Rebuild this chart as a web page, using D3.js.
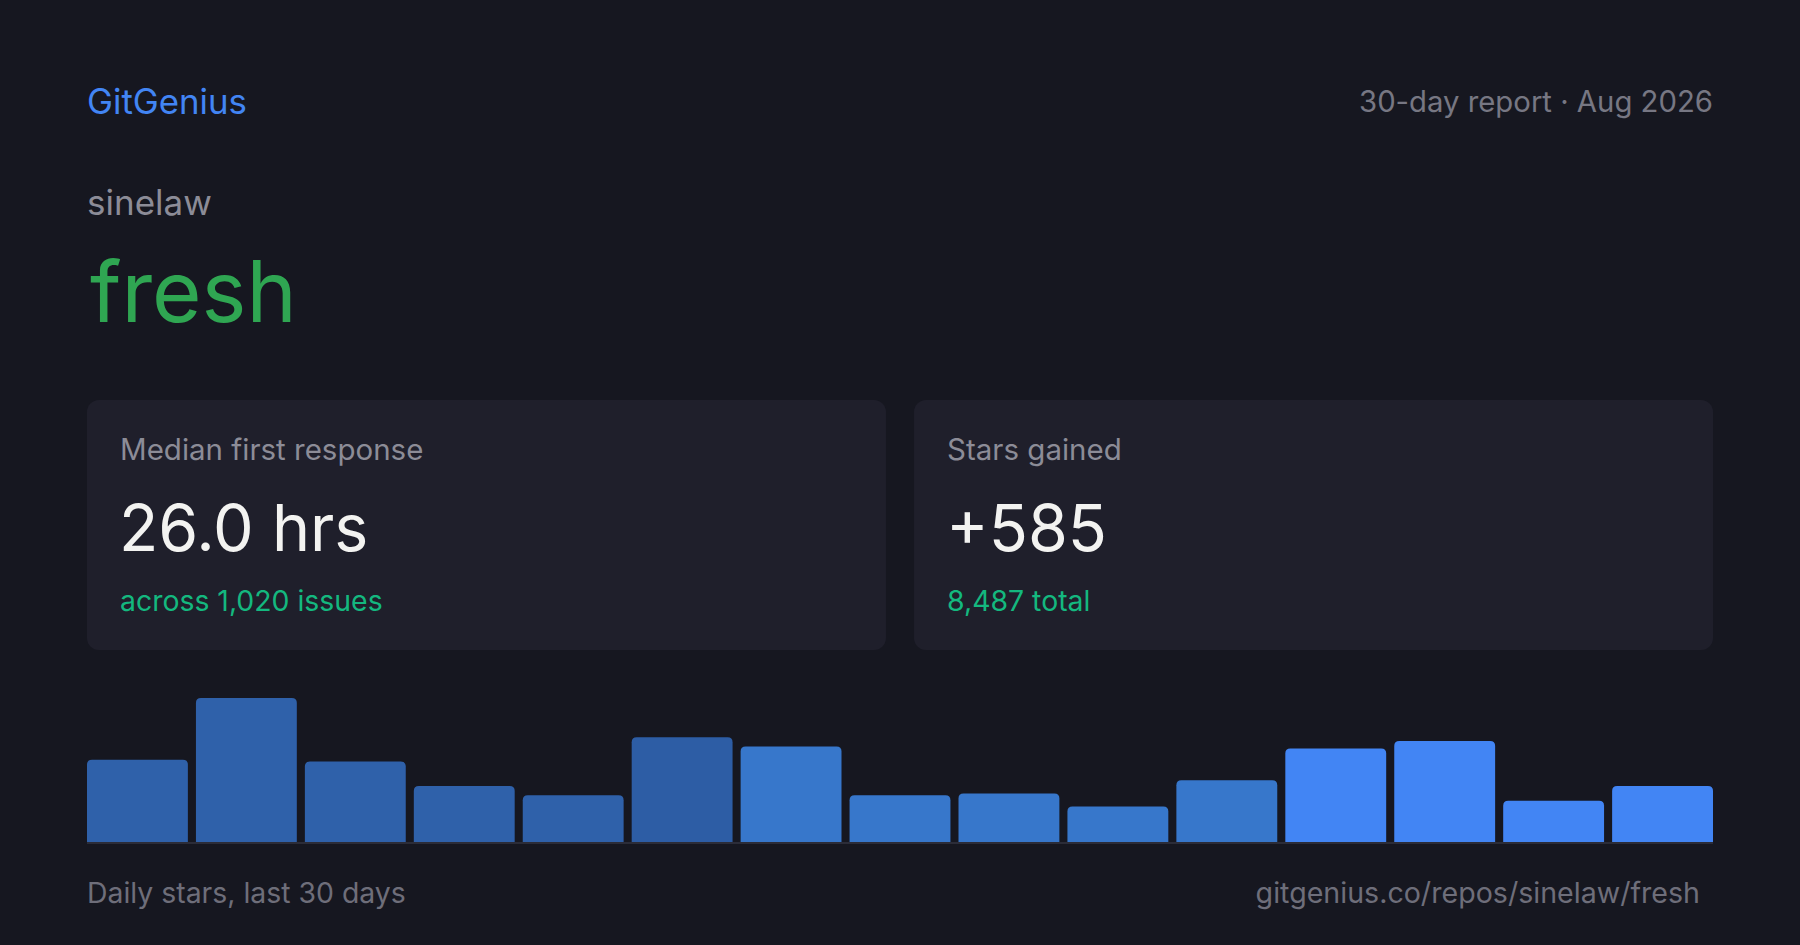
<!DOCTYPE html>
<html>
<head>
<meta charset="utf-8">
<script src="https://cdn.jsdelivr.net/npm/d3@7"></script>
<style>
  body { margin: 0; background: #161720; }
  text { font-family: Inter, "Noto Sans", sans-serif; }
</style>
</head>
<body>
<div id="card"></div>
<script>
// daily stars
let bins = d3.range(1, 16);
let stars = [44, 77, 43, 30, 25, 56, 51, 25, 26, 19, 33, 50, 54, 22, 30];
// shade group of each bar
let shade = [0, 0, 0, 0, 0, 1, 2, 2, 2, 2, 2, 3, 3, 3, 3];

let repoOwner = "sinelaw";
let repoName = "fresh";
let statLabels = ["Median first response", "Stars gained"];
let statValues = ["26.0 hrs", "+585"];
let statNotes = ["across 1,020 issues", "8,487 total"];

let width = 1800;
let height = 945;
let margin = { left: 87, right: 87 };

let svg = d3.select("#card")
            .append("svg")
            .attr("width", width)
            .attr("height", height);

svg.append("rect")
    .attr("width", width)
    .attr("height", height)
    .attr("fill", "#161720");

// header
svg.append("text")
    .attr("x", margin.left)
    .attr("y", 114)
    .attr("font-size", 34.8)
    .attr("fill", "#4285f4")
    .text("GitGenius");

svg.append("text")
    .attr("x", width - margin.right)
    .attr("y", 112)
    .attr("text-anchor", "end")
    .attr("font-size", 29.3)
    .attr("fill", "#777783")
    .text("30-day report · Aug 2026");

svg.append("text")
    .attr("x", margin.left)
    .attr("y", 215)
    .attr("font-size", 35)
    .attr("fill", "#8c8c97")
    .text(repoOwner);

svg.append("text")
    .attr("x", margin.left + 3)
    .attr("y", 322)
    .attr("font-size", 85)
    .attr("fill", "#2fa652")
    .text(repoName);

// stat cards
let cardX = d3.scaleBand()
              .domain(d3.range(statLabels.length))
              .range([margin.left, width - margin.right])
              .paddingInner(0.034);

let cards = svg.selectAll(".stat")
               .data(statLabels)
               .enter()
               .append("g")
               .attr("class", "stat")
               .attr("transform", (d, i) => `translate(${cardX(i)}, 400)`);

cards.append("rect")
    .attr("width", cardX.bandwidth())
    .attr("height", 250)
    .attr("rx", 12)
    .attr("fill", "#1f1f2b");

cards.append("text")
    .attr("x", 33)
    .attr("y", 60)
    .attr("font-size", 29.5)
    .attr("fill", "#8c8c97")
    .text(d => d);

cards.append("text")
    .attr("x", 32)
    .attr("y", 151)
    .attr("font-size", 64.5)
    .attr("fill", "#f3f3f1")
    .text((d, i) => statValues[i]);

cards.append("text")
    .attr("x", 33)
    .attr("y", 211)
    .attr("font-size", 28.4)
    .attr("fill", "#14b87f")
    .text((d, i) => statNotes[i]);

// daily stars bars
let baseY = 842;
let x = d3.scaleBand()
          .domain(bins)
          .range([margin.left, width - margin.right])
          .paddingInner(0.074);

let y = d3.scaleLinear()
          .domain([0, d3.max(stars)])
          .range([baseY, baseY - 144]);

let color = d3.scaleOrdinal()
              .domain([0, 1, 2, 3])
              .range(["#2f61aa", "#2d5da5", "#3777cb", "#4285f4"]);

let r = 5;
function topRounded(x0, y0, w, h) {
    let rr = Math.min(r, h);
    return `M${x0},${y0 + h}V${y0 + rr}Q${x0},${y0} ${x0 + rr},${y0}` +
           `H${x0 + w - rr}Q${x0 + w},${y0} ${x0 + w},${y0 + rr}V${y0 + h}Z`;
}

svg.append("g")
    .selectAll("path")
    .data(stars)
    .enter()
    .append("path")
    .attr("d", (d, i) => topRounded(x(bins[i]), y(d), x.bandwidth(), baseY - y(d)))
    .attr("fill", (d, i) => color(shade[i]));

svg.append("rect")
    .attr("x", margin.left)
    .attr("y", baseY)
    .attr("width", width - margin.left - margin.right)
    .attr("height", 2)
    .attr("fill", "#2b2c38");

// footer
svg.append("text")
    .attr("x", margin.left)
    .attr("y", 903)
    .attr("font-size", 28.4)
    .attr("fill", "#6e6e7a")
    .text("Daily stars, last 30 days");

svg.append("text")
    .attr("x", 1700)
    .attr("y", 903)
    .attr("text-anchor", "end")
    .attr("font-size", 28.6)
    .attr("fill", "#6e6e7a")
    .text(`gitgenius.co/repos/${repoOwner}/${repoName}`);
</script>
</body>
</html>
